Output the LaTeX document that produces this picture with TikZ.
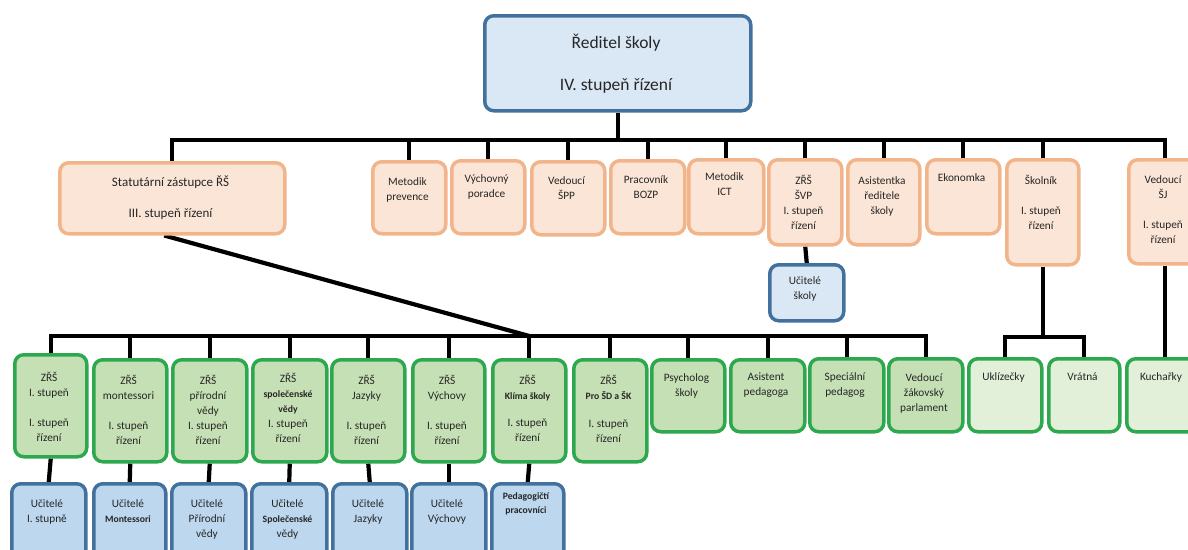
\documentclass[tikz,border=0pt]{standalone}
\usepackage{fontspec}
\setmainfont{Carlito}
\usetikzlibrary{backgrounds}
\definecolor{orF}{HTML}{FBE5D6}
\definecolor{orD}{HTML}{F2B48A}
\definecolor{grF}{HTML}{C5E0B4}
\definecolor{grL}{HTML}{E2F0D9}
\definecolor{grD}{HTML}{2EA84E}
\definecolor{blF}{HTML}{BDD7EE}
\definecolor{blL}{HTML}{DAE8F5}
\definecolor{blD}{HTML}{41719C}
\tikzset{
 boxbase/.style={rounded corners=9pt, line width=3.5pt, inner sep=0pt},
 obox/.style={boxbase, draw=orD, fill=orF},
 gbox/.style={boxbase, draw=grD, fill=grF},
 lbox/.style={boxbase, draw=grD, fill=grL},
 bluebox/.style={boxbase, draw=blD, fill=blF},
 tbox/.style={boxbase, draw=blD, fill=blL},
 txt/.style={inner sep=0pt, align=center, font=\fontsize{11.3}{15}\selectfont, text=black!85},
 conn/.style={line width=4.2pt, draw=black},
}
\newcommand\mybox[8]{%
 \node[#1, anchor=north west, minimum width={#5-#3}, minimum height={#6-#4}] (#2) at (#3,#4) {};
 \node[txt] (#2-t) at ({(#3+#5)/2},#7) {#8};
}
\newcommand\bsm[1]{{\bfseries\fontsize{9.7}{15}\selectfont #1}}
\begin{document}
\begin{tikzpicture}[x=1pt,y=-1pt]
\useasboundingbox (0,0) rectangle (1188,549);
\clip (0,0) rectangle (1188,549);
% top
\node[tbox, anchor=north west, minimum width=266, minimum height=95] (R) at (483,14) {};
\node[txt, font=\fontsize{17.5}{21}\selectfont] (R-t) at (616,64) {Ředitel školy\\[21pt]IV. stupeň řízení};
% orange row
\node[obox, anchor=north west, minimum width=225, minimum height=71] (S) at (58,161) {};
\node[txt, font=\fontsize{13}{16}\selectfont] (S-t) at (170.5,197.5) {Statutární zástupce ŘŠ\\[15pt]III. stupeň řízení};
\mybox{obox}{MP}{371}{160}{444}{232}{190}{Metodik\\prevence}
\mybox{obox}{VP}{450}{159}{523}{232}{187}{Výchovný\\poradce}
\mybox{obox}{SPP}{530}{160}{603}{233}{188}{Vedoucí\\ŠPP}
\mybox{obox}{BOZP}{609}{159}{683}{232}{187}{Pracovník\\BOZP}
\mybox{obox}{ICT}{687}{158}{762}{232}{184}{Metodik\\ICT}
\mybox{obox}{SVP}{767}{158}{840}{243}{202.5}{ZŘŠ\\ŠVP\\I. stupeň\\řízení}
\mybox{obox}{ARS}{846}{158}{918}{243}{196}{Asistentka\\ředitele\\školy}
\mybox{obox}{EK}{925}{158}{998}{232}{178}{Ekonomka}
\mybox{obox}{SK}{1005}{158}{1077}{263}{202.5}{Školník\\[15pt]I. stupeň\\řízení}
\mybox{obox}{VSJ}{1127}{158}{1199}{262}{210}{Vedoucí\\ŠJ\\[15pt]I. stupeň\\řízení}
\mybox{tbox}{US}{768}{263}{842}{319}{289}{Učitelé\\školy}
% green row
\mybox{gbox}{G1}{13}{353}{85}{455}{407}{ZŘŠ\\I. stupeň\\[15pt]I. stupeň\\řízení}
\mybox{gbox}{G2}{92}{358}{165}{460}{410}{ZŘŠ\\montessori\\[15pt]I. stupeň\\řízení}
\mybox{gbox}{G3}{171}{358}{245}{460}{410}{ZŘŠ\\přírodní\\vědy\\I. stupeň\\řízení}
\mybox{gbox}{G4}{251}{358}{325}{460}{408}{ZŘŠ\\\bsm{společenské}\\\bsm{vědy}\\I. stupeň\\řízení}
\mybox{gbox}{G5}{330}{358}{403}{460}{410}{ZŘŠ\\Jazyky\\[15pt]I. stupeň\\řízení}
\mybox{gbox}{G6}{411}{358}{483}{460}{410}{ZŘŠ\\Výchovy\\[15pt]I. stupeň\\řízení}
\mybox{gbox}{G7}{491}{358}{564}{460}{408}{ZŘŠ\\\bsm{Klíma školy}\\[12pt]I. stupeň\\řízení}
\mybox{gbox}{G8}{572}{358}{645}{460}{409}{ZŘŠ\\\bsm{Pro ŠD a ŠK}\\[13pt]I. stupeň\\řízení}
\mybox{gbox}{G9}{650}{358}{723}{430}{385.5}{Psycholog\\školy}
\mybox{gbox}{G10}{729}{358}{803}{430}{385.5}{Asistent\\pedagoga}
\mybox{gbox}{G11}{808}{357}{882}{430}{385.5}{Speciální\\pedagog}
\mybox{gbox}{G12}{887}{357}{961}{430}{393}{Vedoucí\\žákovský\\parlament}
\mybox{lbox}{L1}{967}{357}{1040}{430}{377}{Uklízečky}
\mybox{lbox}{L2}{1047}{357}{1118}{430}{377}{Vrátná}
\mybox{lbox}{L3}{1125}{357}{1197}{430}{377}{Kuchařky}
% blue bottom row
\mybox{bluebox}{B1}{10}{482}{84}{565}{511.5}{Učitelé\\I. stupně}
\mybox{bluebox}{B2}{92}{482}{164}{565}{511.5}{Učitelé\\\bsm{Montessori}}
\mybox{bluebox}{B3}{170}{482}{244}{565}{519.5}{Učitelé\\Přírodní\\vědy}
\mybox{bluebox}{B4}{250}{482}{325}{565}{519.5}{Učitelé\\\bsm{Společenské}\\vědy}
\mybox{bluebox}{B5}{331}{482}{405}{565}{511.5}{Učitelé\\Jazyky}
\mybox{bluebox}{B6}{410}{482}{484}{565}{511.5}{Učitelé\\Výchovy}
\mybox{bluebox}{B7}{490}{482}{562}{565}{504}{\bsm{Pedagogičtí}\\[-1pt]\bsm{pracovníci}}
% connectors
\begin{scope}[on background layer]
\coordinate (bus) at (616,140);
\draw[conn] (R.south) -- (R.south |- bus);
\draw[conn, line cap=rect] (S.north |- bus) -- (VSJ.north |- bus);
\foreach \n in {S,MP,VP,SPP,BOZP,ICT,SVP,ARS,EK,SK,VSJ}
  \draw[conn] (\n.north |- bus) -- (\n.north);
\draw[conn] (SVP.south) -- (US.north);
\coordinate (gbus) at (500,336);
\draw[conn, line cap=rect] (G1.north |- gbus) -- (G12.north |- gbus);
\foreach \n in {G1,G2,G3,G4,G5,G6,G7,G8,G9,G10,G11,G12}
  \draw[conn] (\n.north |- gbus) -- (\n.north);
\draw[conn] ([xshift=-8pt]S.south) -- (G7.north |- gbus);
\foreach \g/\b in {G1/B1,G2/B2,G3/B3,G4/B4,G5/B5,G6/B6,G7/B7}
  \draw[conn] (\g.south) -- (\b.north);
\coordinate (sbus) at (1040,337);
\draw[conn] (SK.south) -- (SK.south |- sbus);
\draw[conn, line cap=rect] (L1.north |- sbus) -- (L2.north |- sbus);
\draw[conn] (L1.north |- sbus) -- (L1.north);
\draw[conn] (L2.north |- sbus) -- (L2.north);
\draw[conn] (VSJ.south) -- (VSJ.south |- L3.north);
\end{scope}
\end{tikzpicture}
\end{document}
